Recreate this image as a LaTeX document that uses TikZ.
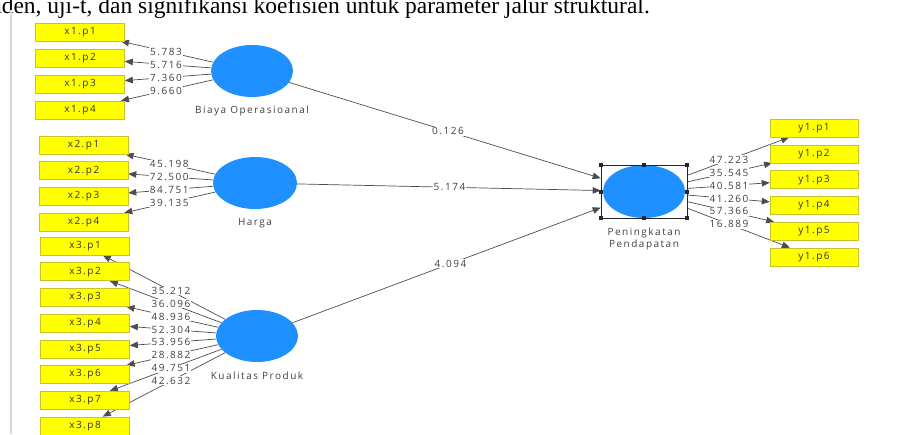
\documentclass[tikz,border=0pt]{standalone}
\usepackage{fontspec}
\setmainfont{Open Sans}[LetterSpace=15]
\newfontfamily\docfont{Liberation Serif}
\usetikzlibrary{shapes.geometric,positioning,calc,arrows.meta,backgrounds}
\definecolor{plsblue}{RGB}{30,144,255}
\definecolor{plsyellow}{RGB}{255,255,0}
\definecolor{plsedge}{RGB}{200,195,40}
\tikzset{
  ind/.style={rectangle, fill=plsyellow, draw=plsedge, line width=0.6pt, minimum width=89pt, minimum height=18pt, inner sep=0pt, font=\fontsize{10}{12}\selectfont, text=black!80},
  lat/.style={ellipse, fill=plsblue, minimum width=82pt, minimum height=52pt, inner sep=0pt},
  latcap/.style={below=9pt of #1, inner sep=0pt, align=center, font=\fontsize{10}{12}\selectfont, text=black!75},
  arr/.style={draw=black!70, line width=0.7pt, -{Triangle[length=8pt,width=6.5pt]}},
  coef/.style={fill=white, inner sep=0.8pt, font=\fontsize{10}{11}\selectfont, text=black!75}
}
\begin{document}
\begin{tikzpicture}[x=1pt, y=-1pt]
  \useasboundingbox (0,0) rectangle (900,434);
  \clip (0,0) rectangle (900,434);
  \node[anchor=base east, inner sep=0pt, font=\docfont\fontsize{23.5}{28}\selectfont] (intro) at (650,13.5) {independen, uji-t, dan signifikansi koefisien untuk parameter jalur struktural.};
  \draw[black!15, line width=1.5pt] (11,10) -- (11,434);

  \node[lat] (bo) at (252,71) {};
  \node[lat, minimum width=84pt] (ha) at (255,183) {};
  \node[lat] (kp) at (257,336) {};
  \node[rectangle, draw=black!85, line width=0.6pt, minimum width=86pt, minimum height=53pt, inner sep=0pt,
    path picture={\fill[plsblue] (path picture bounding box.center) ellipse (41pt and 26.5pt);}] (pp) at (644,191.5) {};
  \foreach \a in {north west,north,north east,east,south east,south,south west,west}
    \fill[black!85] (pp.\a) ++(-2pt,-2pt) rectangle ++(4pt,4pt);

  \node[latcap=bo] (bocap) {Biaya Operasioanal};
  \node[latcap=ha] (hacap) {Harga};
  \node[latcap=kp] (kpcap) {Kualitas Produk};
  \node[latcap=pp] (ppcap) {Peningkatan\\Pendapatan};

  \foreach \i/\v in {1/5.783,2/5.716,3/7.360,4/9.660} {
    \node[ind] (x1p\i) at (80,{32+26*(\i-1)}) {x1.p\i};
    \begin{scope}[on background layer]
      \draw[arr] (bo) -- (x1p\i);
    \end{scope}
    \node[coef] at ($(bo)!.5!(x1p\i)$) {\v};
  }
  \foreach \i/\v in {1/45.198,2/72.500,3/84.751,4/39.135} {
    \node[ind] (x2p\i) at (83.5,{145+25.7*(\i-1)}) {x2.p\i};
    \begin{scope}[on background layer]
      \draw[arr] (ha) -- (x2p\i);
    \end{scope}
    \node[coef] at ($(ha)!.5!(x2p\i)$) {\v};
  }
  \foreach \i/\v in {1/35.212,2/36.096,3/48.936,4/52.304,5/53.956,6/28.882,7/49.751,8/42.632} {
    \node[ind] (x3p\i) at (85,{246+25.7*(\i-1)}) {x3.p\i};
    \begin{scope}[on background layer]
      \draw[arr] (kp) -- (x3p\i);
    \end{scope}
    \node[coef] at ($(kp)!.5!(x3p\i)$) {\v};
  }
  \foreach \i/\v in {1/47.223,2/35.545,3/40.581,4/41.260,5/57.366,6/16.889} {
    \node[ind, minimum width=88pt] (y1p\i) at (814,{128+25.8*(\i-1)}) {y1.p\i};
    \begin{scope}[on background layer]
      \draw[arr] (pp) -- (y1p\i);
    \end{scope}
    \node[coef] at ($(pp)!.5!(y1p\i)$) {\v};
  }

  \foreach \s/\v in {bo/0.126,ha/5.174,kp/4.094} {
    \begin{scope}[on background layer]
      \draw[arr] (\s) -- (pp);
    \end{scope}
    \node[coef] at ($(\s)!.5!(pp)$) {\v};
  }
\end{tikzpicture}
\end{document}
